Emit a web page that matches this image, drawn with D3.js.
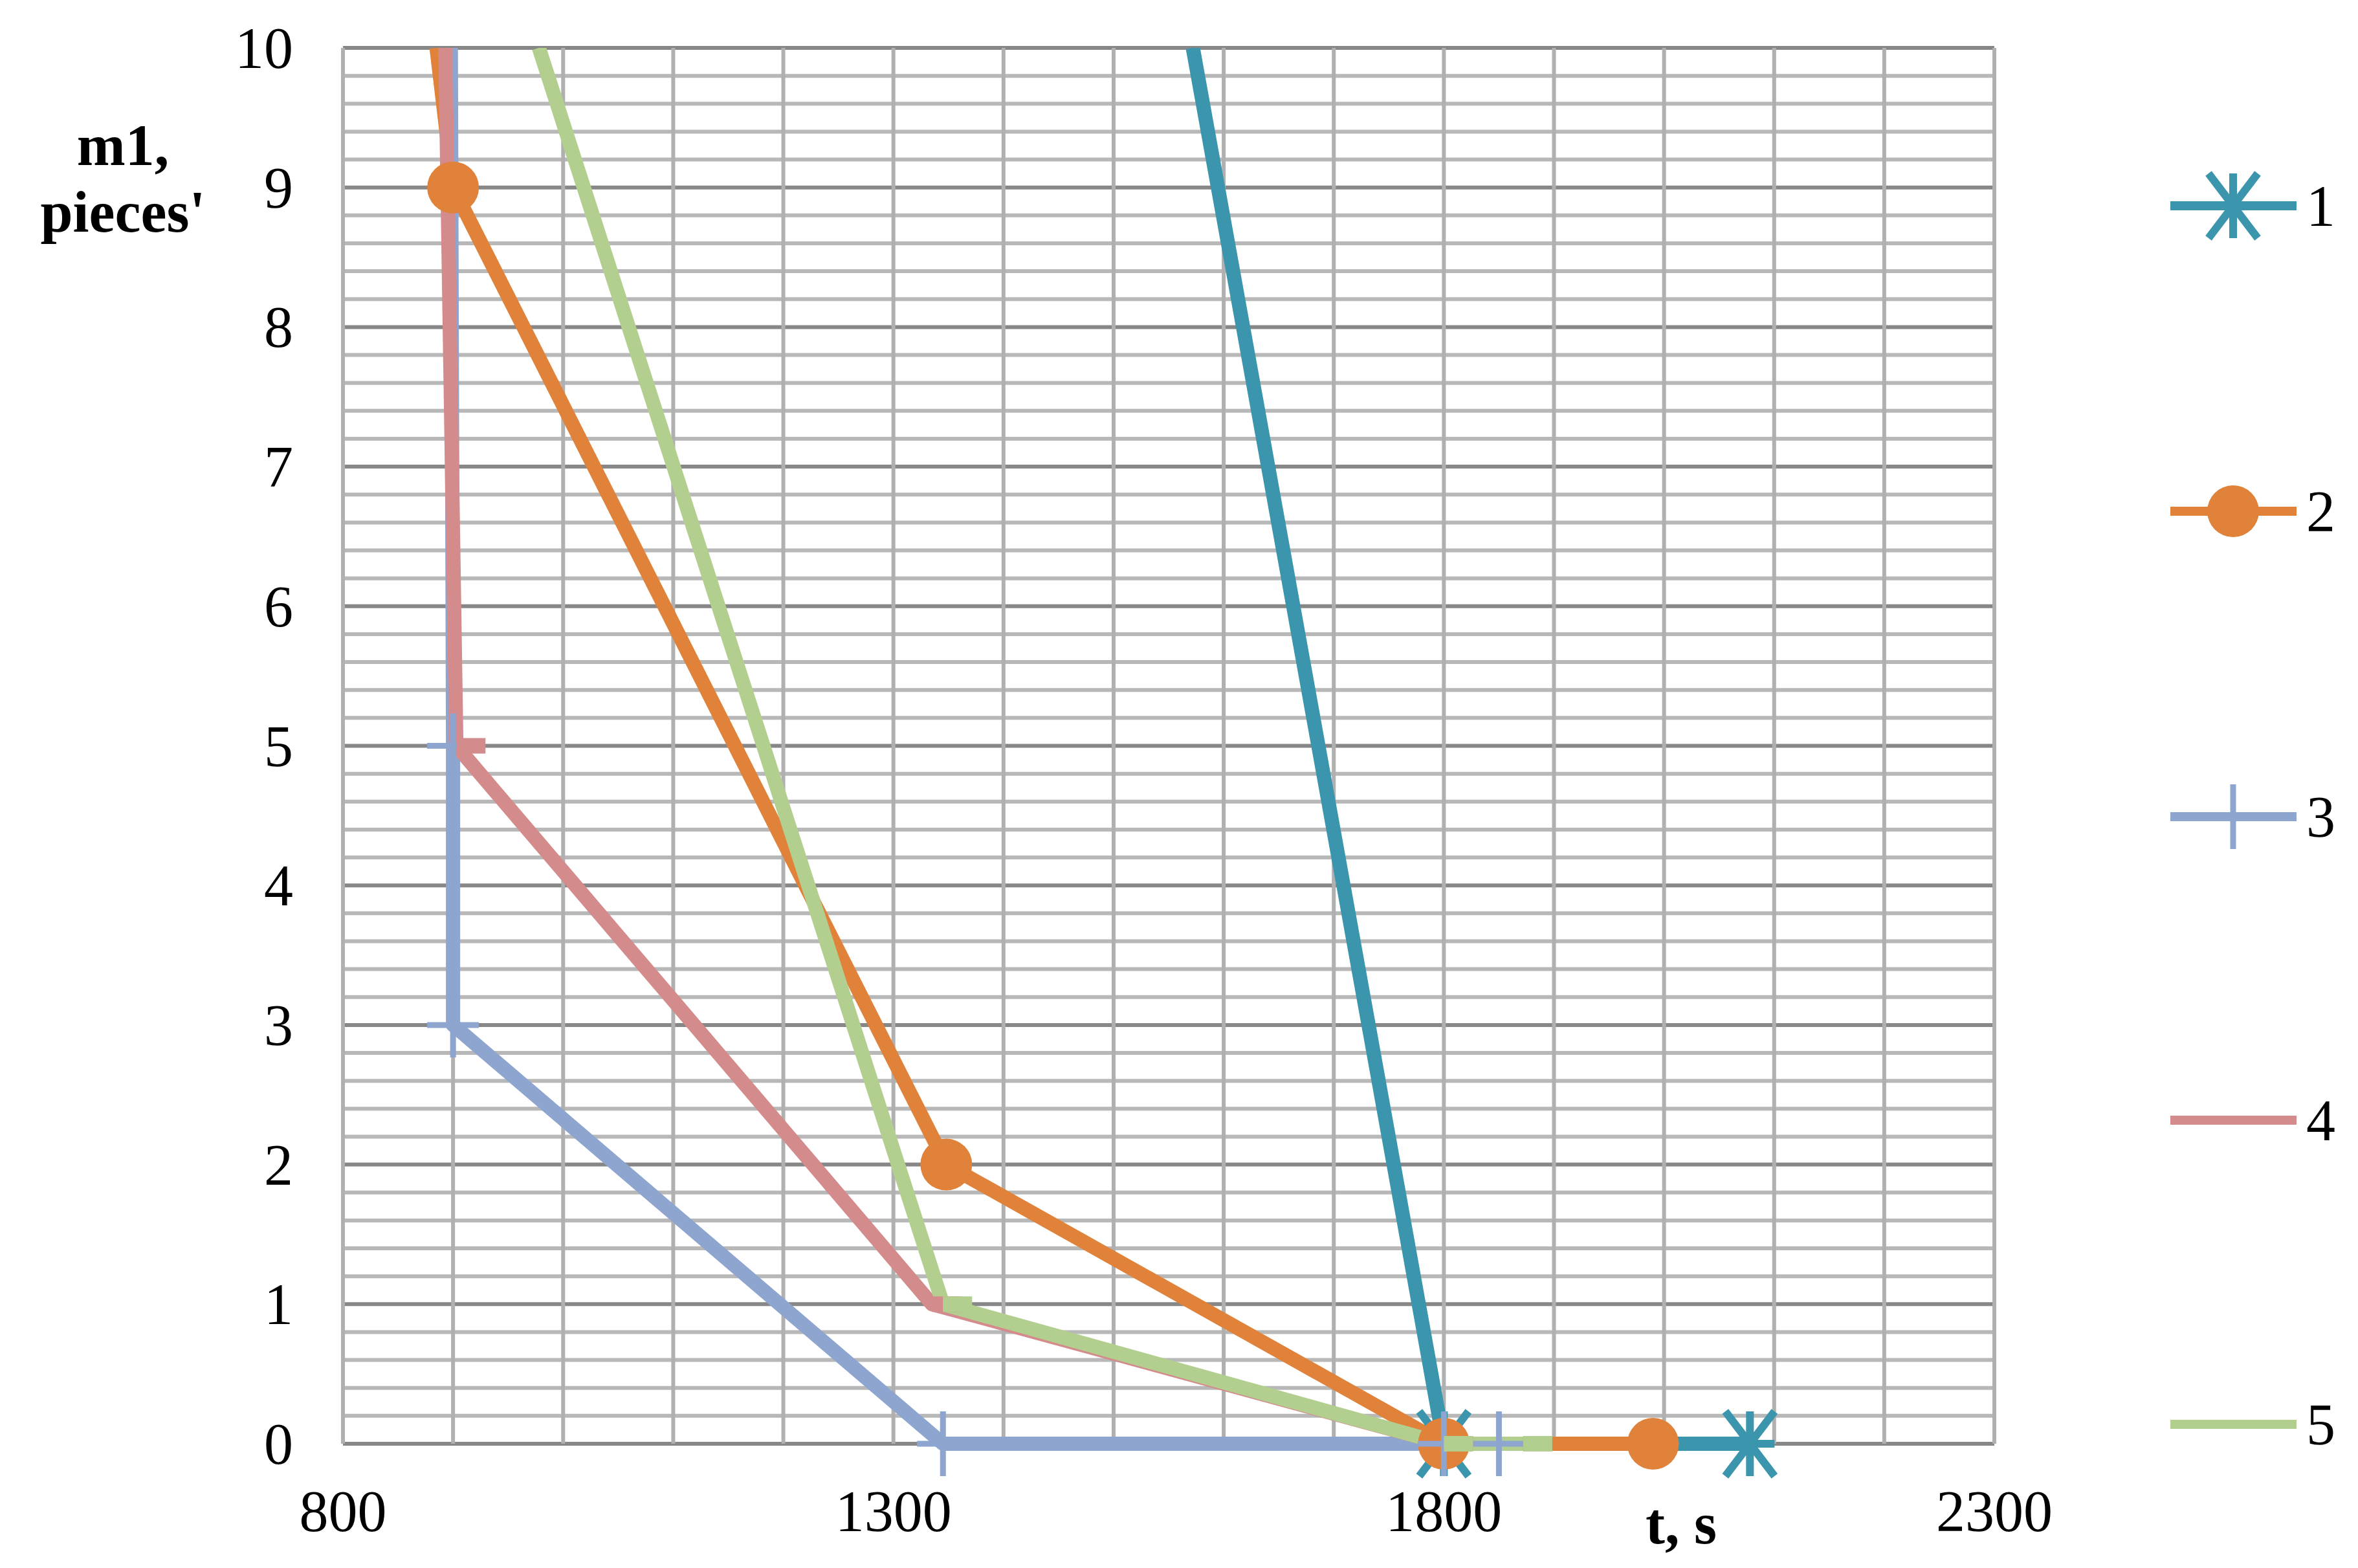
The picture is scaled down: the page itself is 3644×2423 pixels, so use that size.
<!DOCTYPE html>
<html><head><meta charset="utf-8">
<script src="https://cdn.jsdelivr.net/npm/d3@7"></script>
<style>body{margin:0;background:#fff}text{font-family:"Liberation Serif","Times New Roman",serif;fill:#000}</style>
</head><body>
<svg width="3644" height="2423"></svg>
<script>
const seriesNames = ["1", "2", "3", "4", "5"];
const colors = ["#3a95ad", "#e0823a", "#8ea5cf", "#d38b8b", "#b3cf8f"];
const markers = ["star", "circle", "plus", "dash", "dash"];
const t1 = [1572, 1800, 2078], m1a = [10, 0, 0];
const t2 = [885, 900, 1348, 1800, 1990], m2 = [10, 9, 2, 0, 0];
const t3 = [898, 900, 900, 1345, 1800, 1850], m3 = [10, 5, 3, 0, 0, 0];
const t4 = [893, 903, 1335, 1800], m4 = [10, 5, 1, 0];
const t5 = [978, 1345, 1800, 1872], m5 = [10, 1, 0, 0];
const xTicks = [800, 1300, 1800, 2300];
const yTicks = [0, 1, 2, 3, 4, 5, 6, 7, 8, 9, 10];

const allT = [t1, t2, t3, t4, t5], allM = [m1a, m2, m3, m4, m5];
const series = seriesNames.map((n, i) => ({
  name: n, color: colors[i], marker: markers[i],
  pts: allT[i].map((t, j) => ({t, m: allM[i][j]}))
}));

const svg = d3.select("svg");
const margin = {left: 530, right: 562, top: 74, bottom: 192};
const innerWidth = 3644 - margin.left - margin.right;
const innerHeight = 2423 - margin.top - margin.bottom;
const x = d3.scaleLinear().domain([800, 2300]).range([0, innerWidth]);
const y = d3.scaleLinear().domain([0, 10]).range([innerHeight, 0]);
const g = svg.append("g").attr("transform", `translate(${margin.left},${margin.top})`);

// grid
g.selectAll(".hmin").data(d3.range(0, 10.01, 0.2)).enter().append("line")
  .attr("x1", 0).attr("x2", innerWidth).attr("y1", d => y(d)).attr("y2", d => y(d))
  .attr("stroke", d => Math.abs(d - Math.round(d)) < 1e-6 ? "#878787" : "#b8b8b8").attr("stroke-width", 6);
g.selectAll(".vg").data(d3.range(800, 2301, 100)).enter().append("line")
  .attr("y1", 0).attr("y2", innerHeight).attr("x1", d => x(d)).attr("x2", d => x(d))
  .attr("stroke", "#b0b0b0").attr("stroke-width", 6);

g.append("defs").append("clipPath").attr("id", "c").append("rect")
  .attr("x", 0).attr("y", 0).attr("width", innerWidth + 200).attr("height", innerHeight + 100);
const plot = g.append("g").attr("clip-path", "url(#c)");

const line = d3.line().x(d => x(d.t)).y(d => y(d.m));

function drawMarker(sel, type, color) {
  if (type === "circle") sel.append("circle").attr("r", 40).attr("fill", color);
  else if (type === "star") {
    sel.append("path").attr("stroke", color).attr("stroke-width", 12).attr("fill", "none")
      .attr("d", "M0,-50V50M-38,-50L38,50M-38,50L38,-50M-38,0H38");
  } else if (type === "plus") {
    sel.append("path").attr("stroke", color).attr("stroke-width", 9).attr("d", "M0,-50V50M-40,0H40");
  } else if (type === "dash") {
    sel.append("path").attr("stroke", color).attr("stroke-width", 24).attr("d", "M0,0H45");
  }
}

series.forEach(s => {
  plot.append("path").datum(s.pts).attr("d", line).attr("fill", "none")
    .attr("stroke", s.color).attr("stroke-width", 22).attr("stroke-linejoin", "round");
});
series.forEach(s => {
  s.pts.filter(p => p.m < 10).forEach(p => {
    drawMarker(plot.append("g").attr("transform", `translate(${x(p.t)},${y(p.m)})`), s.marker, s.color);
  });
});

// axes labels
g.selectAll(".xt").data(xTicks).enter().append("text")
  .attr("x", d => x(d)).attr("y", innerHeight + 135).attr("text-anchor", "middle")
  .attr("font-size", 90).text(d => d);
g.selectAll(".yt").data(yTicks).enter().append("text")
  .attr("x", -77).attr("y", d => y(d) + 31).attr("text-anchor", "end")
  .attr("font-size", 90).text(d => d);
svg.append("text").attr("x", 2598).attr("y", 2385).attr("text-anchor", "middle")
  .attr("font-size", 90).attr("font-weight", "bold").text("t, s");
svg.append("text").attr("x", 190).attr("y", 255).attr("text-anchor", "middle")
  .attr("font-size", 90).attr("font-weight", "bold").text("m1,");
svg.append("text").attr("x", 190).attr("y", 358).attr("text-anchor", "middle")
  .attr("font-size", 90).attr("font-weight", "bold").text("pieces'");

// legend
const legY = [318, 790, 1262, 1731, 2201];
series.forEach((s, i) => {
  const lg = svg.append("g").attr("transform", `translate(3354,${legY[i]})`);
  lg.append("line").attr("x1", 0).attr("x2", 195).attr("stroke", s.color).attr("stroke-width", 14);
  drawMarker(lg.append("g").attr("transform", "translate(97,0)"), s.marker === "dash" ? "none" : s.marker, s.color);
  lg.append("text").attr("x", 210).attr("y", 31).attr("font-size", 90).text(s.name);
});
</script>
</body></html>
